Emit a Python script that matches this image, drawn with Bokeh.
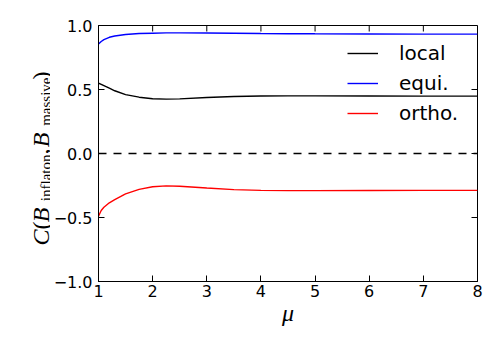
from math import pi
from bokeh.plotting import figure
from bokeh.layouts import row
from bokeh.models import Range1d, Span, Legend, LegendItem, FixedTicker
from bokeh.core.properties import value
from bokeh.embed import file_html
from bokeh.resources import INLINE

# ---- data ----
mu = [1.0, 1.05, 1.1, 1.2, 1.3, 1.5, 1.75, 2.0, 2.25, 2.5, 3.0, 3.5, 4.0, 4.5, 5.0, 6.0, 7.0, 8.0]
local = [0.55, 0.54, 0.53, 0.51, 0.49, 0.46, 0.44, 0.428, 0.425, 0.427, 0.437, 0.445, 0.449, 0.45, 0.45, 0.449, 0.448, 0.448]
equi = [0.855, 0.875, 0.89, 0.908, 0.918, 0.93, 0.937, 0.94, 0.942, 0.942, 0.941, 0.939, 0.937, 0.936, 0.935, 0.934, 0.933, 0.933]
ortho = [-0.49, -0.445, -0.42, -0.385, -0.36, -0.315, -0.28, -0.26, -0.253, -0.256, -0.27, -0.282, -0.288, -0.29, -0.29, -0.289, -0.288, -0.288]
series_labels = ["local", "equi.", "ortho."]
series_colors = ["#000000", "#0000ff", "#ff0000"]

x_ticks = [1, 2, 3, 4, 5, 6, 7, 8]
x_tick_labels = ["1", "2", "3", "4", "5", "6", "7", "8"]
y_ticks = [-1.0, -0.5, 0.0, 0.5, 1.0]
y_tick_labels = ["\u22121.0", "\u22120.5", "0.0", "0.5", "1.0"]
x_label = "\u03bc"

TICK_FONT = "DejaVu Sans"
SERIF = "Liberation Serif"
H = 334
LW = 50          # width of the y-label strip
TOP, BOTTOM = 25, 53
FRAME_H = H - TOP - BOTTOM

# ---- main plot ----
p = figure(width=434, height=H, x_range=Range1d(1, 8), y_range=Range1d(-1, 1),
           output_backend="svg", toolbar_location=None,
           min_border_left=48, min_border_right=7, min_border_top=TOP, min_border_bottom=BOTTOM)
p.grid.visible = False
p.outline_line_color = "black"
p.outline_line_width = 1
p.background_fill_color = "white"
p.border_fill_color = "white"

def style_axis(ax, ticks, labels):
    ax.ticker = FixedTicker(ticks=ticks)
    ax.major_label_overrides = {t: l for t, l in zip(ticks, labels)}
    ax.major_tick_in = 6
    ax.major_tick_out = 0
    ax.minor_tick_in = 0
    ax.minor_tick_out = 0
    ax.axis_line_color = "black"
    ax.major_tick_line_color = "black"
    ax.major_label_text_font = TICK_FONT
    ax.major_label_text_color = "black"
    ax.major_label_text_font_size = "16px"

style_axis(p.xaxis[0], x_ticks, x_tick_labels)
p.xaxis[0].major_label_standoff = 3
p.xaxis[0].axis_label = x_label
p.xaxis[0].axis_label_text_font = SERIF
p.xaxis[0].axis_label_text_font_style = "italic"
p.xaxis[0].axis_label_text_font_size = "24px"
p.xaxis[0].axis_label_text_color = "black"
p.xaxis[0].axis_label_standoff = 0
style_axis(p.yaxis[0], y_ticks, y_tick_labels)
p.yaxis[0].major_label_standoff = 6

# mirrored inward ticks on the top and right edges
p.ray(x=x_ticks, y=[y_ticks[-1]] * len(x_ticks), length=6, length_units="screen",
      angle=-pi / 2, line_color="black", line_width=1)
p.ray(x=[x_ticks[-1]] * len(y_ticks), y=y_ticks, length=6, length_units="screen",
      angle=pi, line_color="black", line_width=1)

p.add_layout(Span(location=0, dimension="width", line_color="black", line_width=1.3, line_dash="8 7"))

renderers = []
for ys, c in zip([local, equi, ortho], series_colors):
    r = p.line(mu, ys, line_color=c, line_width=1.4)
    renderers.append(r)

legend = Legend(items=[LegendItem(label=l, renderers=[r]) for l, r in zip(series_labels, renderers)],
                location=(249, 156), glyph_width=31, glyph_height=22, label_height=22,
                label_standoff=21, spacing=6, padding=0, margin=0,
                label_text_font=TICK_FONT, label_text_font_size="20px", label_text_color="black",
                background_fill_alpha=0, border_line_alpha=0)
p.add_layout(legend)

# ---- y-axis label strip: C(B_inflaton, B_massive) ----
# same vertical frame as the main plot; x in pixels, y in the main plot's data units
q = figure(width=LW, height=H, x_range=Range1d(0, LW), y_range=Range1d(-1, 1),
           output_backend="svg", toolbar_location=None,
           x_axis_location=None, y_axis_location=None,
           min_border_left=0, min_border_right=0, min_border_top=TOP, min_border_bottom=BOTTOM)
q.grid.visible = False
q.outline_line_color = None
q.background_fill_color = "white"
q.border_fill_color = "white"

def page_y(py):
    # pixel row -> value of the shared vertical scale
    return 1 - 2 * (py - TOP) / FRAME_H

# each piece is anchored at its upper end (text reads bottom-to-top)
main_x, sub_x = 40, 45.5
pieces_italic = (["C", "B", "B"], [main_x] * 3, [page_y(229), page_y(207), page_y(132)])
pieces_roman = (["(", ",", ")"], [main_x] * 3, [page_y(221), page_y(148), page_y(71)])
pieces_sub = (["inflaton", "massive"], [sub_x] * 2, [page_y(154), page_y(77)])

for (txts, xs, ys), style, size in [(pieces_italic, "italic", "24px"),
                                   (pieces_roman, "normal", "24px"),
                                   (pieces_sub, "normal", "15px")]:
    q.text(x=xs, y=ys, text=txts, angle=pi / 2, text_font=value(SERIF),
           text_font_style=style, text_font_size=size, text_color="black",
           text_align="right", text_baseline="alphabetic")

layout = row(q, p)
open("out.html", "w").write(file_html(layout, INLINE))
